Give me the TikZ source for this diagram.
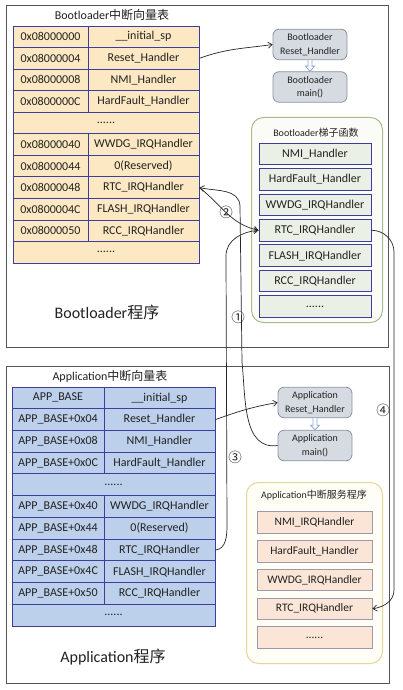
\documentclass[tikz,border=0pt]{standalone}
\usepackage{fontspec}
\setmainfont{Carlito}
\newfontfamily\cjk{Noto Sans CJK SC}
\usetikzlibrary{arrows.meta,calc}
\newcommand\sixdots{......}
\definecolor{bfill}{HTML}{FCE8C2}
\definecolor{afill}{HTML}{BCCFEB}
\definecolor{cellline}{HTML}{3E3E9A}
\definecolor{gfill}{HTML}{D6DBE1}
\definecolor{gline}{HTML}{8C939C}
\definecolor{lfill}{HTML}{EBF0E6}
\definecolor{lgline}{HTML}{A7BD90}
\definecolor{lgfill}{HTML}{FBFCF8}
\definecolor{ifill}{HTML}{FBE5D6}
\definecolor{iline}{HTML}{9A9AA8}
\definecolor{igline}{HTML}{E5D79A}
\definecolor{igfill}{HTML}{FFFEF6}
\definecolor{outline}{HTML}{555555}
\definecolor{hollowc}{HTML}{8EA9D6}
\definecolor{txt}{HTML}{222222}
\begin{document}
\begin{tikzpicture}[x=1pt,y=-1pt,
  every node/.style={text=txt},
  cell/.style={draw=cellline, line width=0.9pt, inner sep=0pt, font=\fontsize{12}{14}\selectfont},
  bcell/.style={cell, fill=bfill, minimum height=21.55pt},
  acell/.style={cell, fill=afill, minimum height=21.73pt},
  outerbox/.style={draw=outline, line width=1.3pt, anchor=north west, inner sep=0pt},
  gbox/.style={draw=gline, fill=gfill, line width=0.8pt, rounded corners=6pt, minimum width=74pt, minimum height=30.5pt, align=center, inner sep=0pt, font=\fontsize{10}{13.5}\selectfont},
  grp/.style={line width=1pt, rounded corners=12pt, anchor=north west, inner sep=0pt},
  lbox/.style={draw=cellline, fill=lfill, line width=0.9pt, minimum width=112pt, minimum height=21.5pt, inner sep=0pt, font=\fontsize{12}{14}\selectfont},
  ibox/.style={draw=iline, fill=ifill, line width=0.8pt, minimum width=115pt, minimum height=21.5pt, inner sep=0pt, font=\fontsize{11.5}{14}\selectfont},
  titlesm/.style={font=\fontsize{10}{12}\selectfont, inner sep=0pt},
  titlemd/.style={font=\fontsize{12}{14}\selectfont, inner sep=0pt},
  titlebig/.style={font=\fontsize{16}{18}\selectfont, inner sep=0pt},
  numlbl/.style={font=\cjk\fontsize{13.5}{14}\selectfont, inner sep=0pt},
  arr/.style={-{Straight Barb[length=4pt,width=6pt]}, line width=0.7pt, draw=black!85},
  hollow/.style={draw=hollowc, fill=white, line width=0.8pt, line join=miter}
]
\useasboundingbox (0,0) rectangle (402,690);
\fill[white] (0,0) rectangle (402,690);

% outer boxes
\node[outerbox, minimum width=382pt, minimum height=342pt] (bootbox) at (6,5) {};
\node[outerbox, minimum width=383pt, minimum height=317pt] (appbox) at (6,366) {};

% titles
\node[titlemd] (btitle) at (112,15) {Bootloader{\cjk 中断向量表}};
\node[titlebig] (bprog) at (107,312) {Bootloader{\cjk 程序}};
\node[titlemd] (atitle) at (110,376) {Application{\cjk 中断向量表}};
\node[titlebig] (aprog) at (113,657) {Application{\cjk 程序}};

% Bootloader vector table
\foreach \i/\a/\h in {0/0x08000000/{\_\_initial\_sp},1/0x08000004/{Reset\_Handler},2/0x08000008/{NMI\_Handler},3/0x0800000C/{HardFault\_Handler},5/0x08000040/{WWDG\_IRQHandler},6/0x08000044/{0(Reserved)},7/0x08000048/{RTC\_IRQHandler},8/0x0800004C/{FLASH\_IRQHandler},9/0x08000050/{RCC\_IRQHandler}}{
  \node[bcell, minimum width=75pt] (bA\i) at (50.5,{26+(\i+0.5)*21.55}) {\a};
  \node[bcell, minimum width=111pt] (bH\i) at (143.5,{26+(\i+0.5)*21.55}) {\h};
}
\node[bcell, minimum width=186pt] (bD4) at (106,{26+4.5*21.55}) {\sixdots};
\node[bcell, minimum width=186pt] (bD10) at (106,{26+10.5*21.55}) {\sixdots};

% Application vector table
\foreach \i/\a/\h in {0/{APP\_BASE}/{\_\_initial\_sp},1/{APP\_BASE+0x04}/{Reset\_Handler},2/{APP\_BASE+0x08}/{NMI\_Handler},3/{APP\_BASE+0x0C}/{HardFault\_Handler},5/{APP\_BASE+0x40}/{WWDG\_IRQHandler},6/{APP\_BASE+0x44}/{0(Reserved)},7/{APP\_BASE+0x48}/{RTC\_IRQHandler},8/{APP\_BASE+0x4C}/{FLASH\_IRQHandler},9/{APP\_BASE+0x50}/{RCC\_IRQHandler}}{
  \node[acell, minimum width=92pt] (aA\i) at (58,{387+(\i+0.5)*21.73}) {\a};
  \node[acell, minimum width=111pt] (aH\i) at (159.5,{387+(\i+0.5)*21.73}) {\h};
}
\node[acell, minimum width=203pt] (aD4) at (113.5,{387+4.5*21.73}) {\sixdots};
\node[acell, minimum width=203pt] (aD10) at (113.5,{387+10.5*21.73}) {\sixdots};

% Bootloader reset / main
\node[gbox] (brst) at (310,44.5) {Bootloader\\Reset\_Handler};
\node[gbox] (bmain) at (310,87) {Bootloader\\main()};
\draw[hollow] ($(brst.south)+(-2,0)$) -- ($(brst.south)+(-2,6)$) -- ($(brst.south)+(-4.5,6)$) -- (bmain.north) -- ($(brst.south)+(4.5,6)$) -- ($(brst.south)+(2,6)$) -- ($(brst.south)+(2,0)$);

% Application reset / main
\node[gbox] (arst) at (315,402.5) {Application\\Reset\_Handler};
\node[gbox] (amain) at (315,445.5) {Application\\main()};
\draw[hollow] ($(arst.south)+(-2,0)$) -- ($(arst.south)+(-2,7)$) -- ($(arst.south)+(-4.5,7)$) -- (amain.north) -- ($(arst.south)+(4.5,7)$) -- ($(arst.south)+(2,7)$) -- ($(arst.south)+(2,0)$);

% Bootloader ladder functions
\node[grp, draw=lgline, fill=lgfill, minimum width=131pt, minimum height=205pt] (lgrp) at (251,117) {};
\node[titlesm] (ltitle) at (316,133) {Bootloader{\cjk 梯子函数}};
\foreach \i/\t in {0/NMI\_Handler,1/HardFault\_Handler,2/WWDG\_IRQHandler,3/RTC\_IRQHandler,4/FLASH\_IRQHandler,5/RCC\_IRQHandler,6/\sixdots}{
  \node[lbox] (L\i) at (315,{154+\i*25.42}) {\t};
}

% Application ISR
\node[grp, draw=igline, fill=igfill, minimum width=136pt, minimum height=181pt] (igrp) at (246,482) {};
\node[titlesm] (ititle) at (314,495) {Application{\cjk 中断服务程序}};
\foreach \i/\t in {0/NMI\_IRQHandler,1/HardFault\_Handler,2/WWDG\_IRQHandler,3/RTC\_IRQHandler,4/\sixdots}{
  \node[ibox] (S\i) at (314.5,{522.5+\i*28.75}) {\t};
}

% connectors
\draw[arr] (bH1.east) to[out=20,in=188] (brst.west);
\draw[arr] (aH1.east) to[out=20,in=190] (arst.west);
% (1)
\coordinate (c1a) at (242,362);
\coordinate (c1b) at (240,206);
\draw[arr] (amain.west) to[out=188,in=-84] (c1a) -- (c1b) to[out=93,in=-12] (bH7.east);
% (2)
\draw[arr] (bH7.east) to[out=-38,in=168] (L3.west);
% (3)
\coordinate (c3a) at (227,525);
\coordinate (c3b) at (226,256);
\draw[arr] (aH7.east) to[out=5,in=-90] (c3a) -- (c3b) to[out=90,in=185] (L3.west);
% (4)
\coordinate (c4a) at (394,252);
\coordinate (c4b) at (394,590);
\draw[arr] (L3.east) to[out=0,in=90] (c4a) -- (c4b) to[out=-90,in=8] (S3.east);

% labels
\node[numlbl] (n1) at (238,317) {①};
\node[numlbl] (n2) at (226,212) {②};
\node[numlbl] (n3) at (235,457) {③};
\node[numlbl] (n4) at (383,410) {④};
\end{tikzpicture}
\end{document}
